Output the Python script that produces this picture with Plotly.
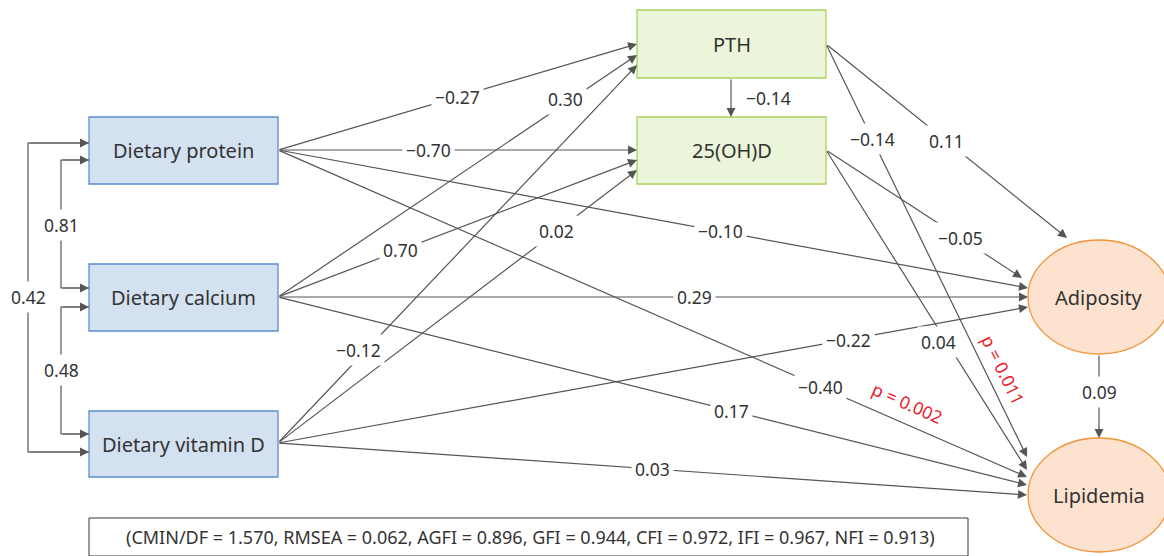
import plotly.graph_objects as go

# ---------------- data ----------------
node_labels = ["Dietary protein", "Dietary calcium", "Dietary vitamin D",
               "PTH", "25(OH)D", "Adiposity", "Lipidemia"]

edge_src = ["Dietary protein", "Dietary calcium", "Dietary vitamin D", "PTH",
            "Dietary protein", "Dietary calcium", "Dietary vitamin D",
            "Dietary protein", "Dietary calcium", "Dietary vitamin D", "PTH", "25(OH)D",
            "Dietary protein", "Dietary calcium", "Dietary vitamin D", "PTH", "25(OH)D",
            "Adiposity"]
edge_tgt = ["PTH", "PTH", "PTH", "25(OH)D",
            "25(OH)D", "25(OH)D", "25(OH)D",
            "Adiposity", "Adiposity", "Adiposity", "Adiposity", "Adiposity",
            "Lipidemia", "Lipidemia", "Lipidemia", "Lipidemia", "Lipidemia",
            "Lipidemia"]
edge_coef = [-0.27, 0.30, -0.12, -0.14,
             -0.70, 0.70, 0.02,
             -0.10, 0.29, -0.22, 0.11, -0.05,
             -0.40, 0.17, 0.03, -0.14, 0.04,
             0.09]

corr_pairs = [("Dietary protein", "Dietary calcium"),
              ("Dietary calcium", "Dietary vitamin D"),
              ("Dietary protein", "Dietary vitamin D")]
corr_values = [0.81, 0.48, 0.42]

pvalue_edges = [("Dietary protein", "Lipidemia"), ("PTH", "Lipidemia")]
pvalue_labels = ["p = 0.002", "p = 0.011"]

fit_text = ("(CMIN/DF = 1.570, RMSEA = 0.062, AGFI = 0.896, GFI = 0.944, "
            "CFI = 0.972, IFI = 0.967, NFI = 0.913)")

# ---------------- layout / style ----------------
W, H = 1164, 556
FONT = "Noto Sans"
TXT = "#333333"
LINE = "#555555"
NODE_FS = 20
LAB_FS = 17.5
FIT_FS = 18

node_geom = {
    "Dietary protein":   dict(kind="rect", x0=89, y0=117, x1=278, y1=184),
    "Dietary calcium":   dict(kind="rect", x0=89, y0=264, x1=278, y1=331),
    "Dietary vitamin D": dict(kind="rect", x0=89, y0=411, x1=278, y1=477),
    "PTH":               dict(kind="rect", x0=637, y0=10, x1=826, y1=78),
    "25(OH)D":           dict(kind="rect", x0=637, y0=117, x1=826, y1=184),
    "Adiposity":         dict(kind="ell", x0=1028, y0=240, x1=1170, y1=354),
    "Lipidemia":         dict(kind="ell", x0=1028, y0=438, x1=1170, y1=552),
}
node_style = {
    "rect_src": dict(fill="#d4e1f1", line="#5b8fce"),
    "rect_mid": dict(fill="#ebf5d9", line="#a9d25c"),
    "ell": dict(fill="#fde3cf", line="#f2943a"),
}
node_kind_style = {"Dietary protein": "rect_src", "Dietary calcium": "rect_src",
                   "Dietary vitamin D": "rect_src", "PTH": "rect_mid",
                   "25(OH)D": "rect_mid", "Adiposity": "ell", "Lipidemia": "ell"}

# per-edge geometry: (tail point, head point, label fraction, label offset)
edge_geom = [
    ((278, 150), (637, 44), 0.50, (0, 0)),
    ((278, 297), (637, 55), 0.80, (0, -4)),
    ((278, 443), (637, 65), 0.235, (-4, -4)),
    ((731, 78), (731, 117), 0.5, (37, 0)),
    ((278, 150), (637, 150), 0.418, (0, 0)),
    ((278, 297), (637, 160), 0.34, (0, 0)),
    ((278, 443), (637, 170), 0.777, (0, 0)),
    ((278, 150), (1028, 288), 0.59, (0, 0)),
    ((278, 297), (1028, 297), 0.555, (0, 0)),
    ((278, 443), (1028, 307), 0.761, (0, 0)),
    ((826, 44), (1067, 238), 0.50, (0, 0)),
    ((826, 150), (1022, 278), 0.684, (0, 0)),
    ((278, 150), (1027, 477), 0.724, (0, 0)),
    ((278, 297), (1027, 485), 0.605, (0, 0)),
    ((278, 443), (1027, 495), 0.50, (0, 0)),
    ((826, 44), (1027, 457), 0.229, (0, 0)),
    ((826, 150), (1027, 470), 0.60, (-8, 0)),
    ((1099, 354), (1099, 438), 0.45, (0, 0)),
]
# correlation connector geometry: (x of vertical, y top, y bottom, label y)
corr_geom = [(61, 160, 288, 225), (61, 307, 434, 370), (28, 143, 452, 297)]
pvalue_geom = [(0.841, (0, -22), 24), (0.789, (19, 0), 64)]


def fmt(v):
    s = f"{abs(v):.2f}"
    return ("\u2212" + s) if v < 0 else s


shapes = []
annotations = []

# nodes
for name in node_labels:
    g = node_geom[name]
    st = node_style[node_kind_style[name]]
    shapes.append(dict(type="rect" if g["kind"] == "rect" else "circle",
                       xref="x", yref="y", x0=g["x0"], y0=g["y0"], x1=g["x1"], y1=g["y1"],
                       fillcolor=st["fill"], line=dict(color=st["line"], width=1.3),
                       layer="below"))

# edges (arrows)
for (tail, head, t, off) in edge_geom:
    annotations.append(dict(x=head[0], y=head[1], ax=tail[0], ay=tail[1],
                            xref="x", yref="y", axref="x", ayref="y", text="",
                            showarrow=True, arrowhead=2, arrowsize=1.5, arrowwidth=1.2,
                            arrowcolor=LINE, standoff=0, startstandoff=0))

# correlation connectors
for (xv, yt, yb, ly) in corr_geom:
    shapes.append(dict(type="path", xref="x", yref="y",
                       path=f"M 89 {yt} L {xv} {yt} L {xv} {yb} L 89 {yb}",
                       line=dict(color=LINE, width=1.2)))
    for yy in (yt, yb):
        annotations.append(dict(x=89, y=yy, ax=xv, ay=yy, xref="x", yref="y",
                                axref="x", ayref="y", text="", showarrow=True,
                                arrowhead=2, arrowsize=1.5, arrowwidth=1.2,
                                arrowcolor=LINE, standoff=0))

# edge labels
for (tail, head, t, off), v in zip(edge_geom, edge_coef):
    lx = tail[0] + t * (head[0] - tail[0]) + off[0]
    ly = tail[1] + t * (head[1] - tail[1]) + off[1]
    annotations.append(dict(x=lx, y=ly, xref="x", yref="y", text=fmt(v), showarrow=False,
                            bgcolor="white" if abs(off[0]) < 20 else "rgba(0,0,0,0)",
                            borderpad=3, font=dict(family=FONT, size=LAB_FS, color=TXT)))

# correlation labels
for (xv, yt, yb, ly), v in zip(corr_geom, corr_values):
    annotations.append(dict(x=xv, y=ly, xref="x", yref="y", text=fmt(v), showarrow=False,
                            bgcolor="white", borderpad=3,
                            font=dict(family=FONT, size=LAB_FS, color=TXT)))

# p-value labels
for (src, tgt), lab, (t, off, ang) in zip(pvalue_edges, pvalue_labels, pvalue_geom):
    i = [k for k in range(len(edge_src)) if edge_src[k] == src and edge_tgt[k] == tgt][0]
    tail, head = edge_geom[i][0], edge_geom[i][1]
    lx = tail[0] + t * (head[0] - tail[0]) + off[0]
    ly = tail[1] + t * (head[1] - tail[1]) + off[1]
    annotations.append(dict(x=lx, y=ly, xref="x", yref="y", text=lab, showarrow=False,
                            textangle=ang, font=dict(family=FONT, size=LAB_FS, color="#e8202a")))

# node labels
for name in node_labels:
    g = node_geom[name]
    cx = (g["x0"] + g["x1"]) / 2 if g["kind"] == "rect" else 1099
    cy = (g["y0"] + g["y1"]) / 2
    annotations.append(dict(x=cx, y=cy, xref="x", yref="y", text=name, showarrow=False,
                            font=dict(family=FONT, size=NODE_FS, color=TXT)))

# fit index box
shapes.append(dict(type="rect", xref="x", yref="y", x0=89, y0=518, x1=968, y1=556,
                   fillcolor="white", line=dict(color="#333333", width=1)))
annotations.append(dict(x=530, y=537, xref="x", yref="y", text=fit_text, showarrow=False,
                        font=dict(family=FONT, size=FIT_FS, color=TXT)))

fig = go.Figure()
fig.add_trace(go.Scatter(x=[0, W], y=[0, H], mode="markers", marker=dict(opacity=0),
                         hoverinfo="skip", showlegend=False))
fig.update_layout(width=W, height=H, autosize=False,
                  margin=dict(l=0, r=0, t=0, b=0),
                  paper_bgcolor="white", plot_bgcolor="white",
                  xaxis=dict(range=[0, W], visible=False, fixedrange=True),
                  yaxis=dict(range=[H, 0], visible=False, fixedrange=True),
                  shapes=shapes, annotations=annotations, showlegend=False)

fig.write_html("out.html", config={"displayModeBar": False},
               post_script="document.body.style.margin='0';")
